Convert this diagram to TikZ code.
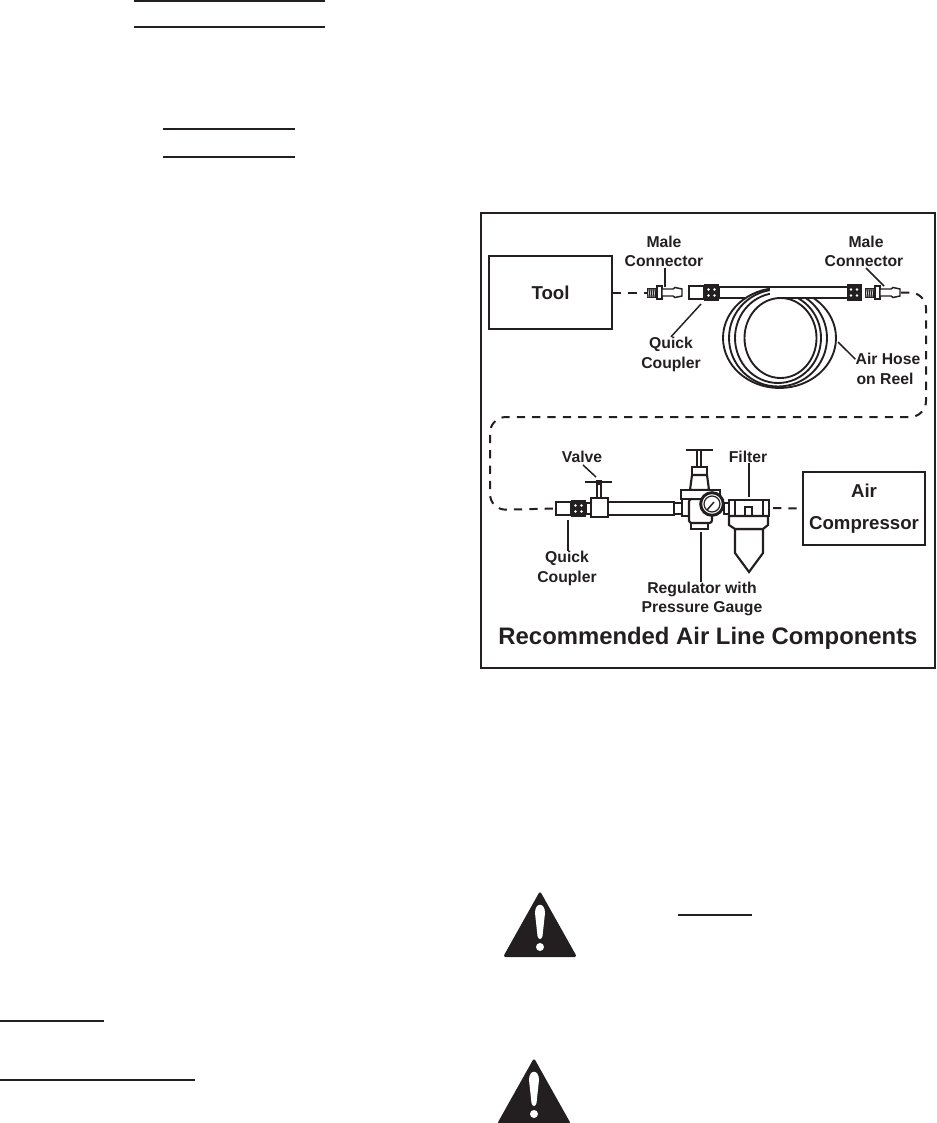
\documentclass[tikz,border=0pt]{standalone}
\usepackage{fontspec}
\setmainfont{Liberation Sans}
\usetikzlibrary{positioning,calc}
\definecolor{ink}{RGB}{35,31,32}
\tikzset{
  label12/.style={font=\fontsize{11.8}{14}\selectfont\bfseries,text=ink,inner sep=0pt,align=center,yshift=-1pt},
  boxtext/.style={font=\fontsize{14}{24}\selectfont\bfseries,text=ink,draw=ink,line width=1.7pt,inner sep=0pt,align=center},
  part/.style={draw=ink,line width=1.6pt,fill=white},
  thin part/.style={draw=ink,line width=1.1pt,fill=white},
  leader/.style={draw=ink,line width=1.1pt},
  dashline/.style={draw=ink,line width=1.5pt,dash pattern=on 6.2pt off 5.3pt},
  rulerline/.style={draw=ink,line width=1.7pt},
}
\begin{document}
\begin{tikzpicture}[x=0.75pt,y=-0.75pt]
  \useasboundingbox (0,0) rectangle (936,1123);
  % rules of the page
  \foreach \xa/\xb/\yy in {134/325/1,134/325/27,163/295/129,163/295/157,0/104/1021,0/195/1080,678/752/915}{
    \draw[rulerline] (\xa,\yy) -- (\xb,\yy);
  }
  % warning triangles
  \foreach \tx/\ty in {540/893,534/1060}{
    \fill[ink,rounded corners=2pt] (\tx,\ty-2) -- (\tx+37,\ty+64) -- (\tx-37,\ty+64) -- cycle;
    \fill[white] (\tx-5,\ty+20) .. controls (\tx-5,\ty+9) and (\tx+5,\ty+9) .. (\tx+5,\ty+20)
      -- (\tx+2.5,\ty+43) .. controls (\tx+1.5,\ty+47) and (\tx-1.5,\ty+47) .. (\tx-2.5,\ty+43) -- cycle;
    \fill[white] (\tx,\ty+54) circle (3pt);
  }
  % frame
  \draw[ink,line width=1.7pt] (481,213) rectangle (935,668);
  \node[label12,font=\fontsize{17.9}{20}\selectfont\bfseries] (title) at (708,637) {Recommended Air Line Components};
  % tool and compressor
  \node[boxtext,minimum width=92pt,minimum height=55pt] (tool) at (550.5,292.5) {Tool};
  \node[boxtext,minimum width=91.5pt,minimum height=55pt] (compressor) at (864,508.5) {Air\\Compressor};
  % hose, first half under the coil
  \draw[part] (719,287) rectangle (782,298);
  \foreach \rx/\ry/\cx in {56.5/50/779.5,49/48.5/778,43/45/778,36/40/780.5}{
    \draw[part,line width=1.4pt] (\cx,338) ellipse ({\rx} and {\ry});
  }
  \fill[white] (770,288) rectangle (847,297);
  \draw[ink,line width=1.6pt] (772,287) -- (847,287) (780,298) -- (847,298);
  % couplers on the hose
  \draw[part] (689,286) rectangle (704,299);
  \foreach \bx/\by in {711.5/292.5,854/292.5,578.5/508.5}{
    \fill[ink] (\bx-7.5,\by-8.5) rectangle (\bx+7.5,\by+8.5);
    \foreach \dx in {-1,1}{\foreach \dy in {-1,1}{
      \fill[white] (\bx+\dx*3,\by+\dy*3) circle (1pt);
    }}
  }
  % male connectors
  \foreach \mx in {647,865}{
    \fill[ink] (\mx,288) rectangle (\mx+10,298);
    \foreach \k in {1,...,4}{\draw[white,line width=0.4pt] (\mx+\k*2,289) -- (\mx+\k*2-1,297);}
    \draw[thin part] (\mx+10,286) rectangle (\mx+15,299);
    \draw[thin part] (\mx+15,289) -- (\mx+26,289) -- (\mx+28,287.5) -- (\mx+35,289) -- (\mx+35,296)
      -- (\mx+28,297.5) -- (\mx+26,296) -- (\mx+15,296) -- cycle;
  }
  \coordinate (male left) at (647,292.5);
  \coordinate (male right) at (901,292.5);
  % valve and line
  \draw[part] (556,502) rectangle (571,515);
  \coordinate (coupler low) at (556,508.5);
  \draw[part] (586,503) rectangle (591,514);
  \draw[part] (608,502) rectangle (674,515);
  \draw[part] (674,503) rectangle (682,514);
  \draw[part] (591,498) rectangle (608,517);
  \draw[part] (597,482) rectangle (601,498);
  \draw[ink,line width=2.2pt] (585,482) -- (612,482);
  \fill[ink] (596,480) rectangle (602,485);
  % regulator
  \draw[ink,line width=2.2pt] (686,450) -- (713,450);
  \draw[part] (697,450) rectangle (701,467);
  \draw[part] (692,467) rectangle (707,475);
  \draw[part] (692,475) -- (690,490) -- (709,490) -- (707,475) -- cycle;
  \draw[part] (691,523) rectangle (708,529);
  \draw[part] (682,499) rectangle (690,516);
  \draw[part,rounded corners=2pt] (689,499) -- (689,523) -- (712,523) -- (712,499) -- cycle;
  \draw[part] (681,490) rectangle (720,499);
  \node[circle,draw=ink,line width=2.2pt,fill=white,minimum size=17pt,inner sep=0pt] (gauge) at (712,504) {};
  \node[circle,draw=ink,line width=0.9pt,minimum size=12pt,inner sep=0pt] (dial) at (712,504) {};
  \draw[ink,line width=1.1pt] (707,510) -- (714,502);
  % filter
  \draw[part] (724,503) rectangle (729,514);
  \draw[part] (729,500) rectangle (769,516);
  \draw[ink,line width=1.6pt] (735,500) -- (735,516) (763,500) -- (763,516);
  \draw[part] (745,507) rectangle (752,516);
  \draw[part] (735,529) -- (735,553) -- (749,572) -- (763,553) -- (763,529) -- cycle;
  \draw[part] (729,516) -- (729,525) -- (735,529) -- (763,529) -- (768,525) -- (768,516) -- cycle;
  \coordinate (filter east) at (769,508);
  % dashed air line
  \draw[dashline] (tool.east) -- (male left);
  \draw[dashline] (filter east) ++(4,0) -- (compressor.west);
  \draw[dashline,rounded corners=12pt] (male right) -- (926,292.5) -- (926,417) -- (490,417) -- (490,510) -- (coupler low);
  % labels
  \node[label12] (male a) at (664,241) {Male};
  \node[label12] (conn a) at (664,260) {Connector};
  \node[label12] (male b) at (866,241) {Male};
  \node[label12] (conn b) at (864,260) {Connector};
  \node[label12] (quick a) at (671,343) {Quick};
  \node[label12] (coup a) at (671,363) {Coupler};
  \node[label12] (hose a) at (888,358) {Air Hose};
  \node[label12] (hose b) at (885,378) {on Reel};
  \node[label12] (valve) at (582,456) {Valve};
  \node[label12] (filter) at (748,456) {Filter};
  \node[label12] (quick b) at (567,557) {Quick};
  \node[label12] (coup b) at (567,577) {Coupler};
  \node[label12] (reg a) at (702,588) {Regulator with};
  \node[label12] (reg b) at (702,607) {Pressure Gauge};
  % leaders
  \coordinate (to male a) at (665,287);
  \coordinate (to coup a) at (701,304);
  \coordinate (to male b) at (884,286);
  \coordinate (to reel) at (838,342);
  \coordinate (to valve) at (596,477);
  \coordinate (to coup b) at (568,520);
  \coordinate (to reg) at (701,532);
  \coordinate (to filter) at (749,497);
  \draw[leader] (conn a.south -| to male a) ++(0,1) -- (to male a);
  \draw[leader] (to coup a) -- (quick a.north);
  \draw[leader] (866,268) -- (to male b);
  \draw[leader] (to reel) -- (hose a.west);
  \draw[leader] (583,465) -- (to valve);
  \draw[leader] (to coup b) -- (quick b.north -| to coup b);
  \draw[leader] (to reg) -- (reg a.north -| to reg);
  \draw[leader] (filter.south -| to filter) -- (to filter);
\end{tikzpicture}
\end{document}
